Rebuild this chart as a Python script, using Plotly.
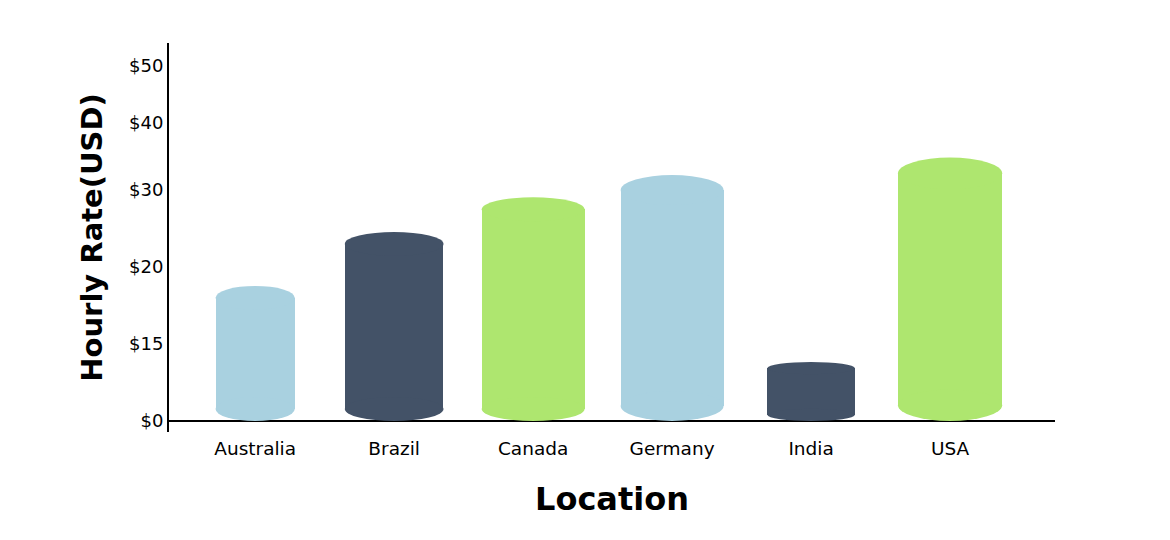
import numpy as np
import plotly.graph_objects as go

# data
locations = ['Australia', 'Brazil', 'Canada', 'Germany', 'India', 'USA']
hourly_rate = [18, 23, 27.5, 30, 10.3, 32.5]

# the y axis has uneven gaps between its labels
tick_usd = [0, 15, 20, 30, 40, 50]
tick_labels = ['$0', '$15', '$20', '$30', '$40', '$50']
tick_pos = [0, 10, 20, 30, 38.7, 46.2]

# cylinder look
colors = ['#A9D1E0', '#435267', '#AEE66F', '#A9D1E0', '#435267', '#AEE66F']
widths = [0.57, 0.71, 0.74, 0.74, 0.63, 0.75]
cap = [1.55, 1.55, 1.55, 1.95, 0.8, 2.05]

FONT = 'DejaVu Sans, sans-serif'

y_top = np.interp(hourly_rate, tick_usd, tick_pos)

fig = go.Figure()
fig.add_trace(go.Bar(
    x=locations, y=y_top - np.array(cap), base=cap, width=widths,
    marker=dict(color=colors, line=dict(width=0)),
    customdata=hourly_rate, hovertemplate='%{x}: $%{customdata}<extra></extra>'))

# top and bottom ellipses of each cylinder
for i, loc in enumerate(locations):
    for yc in (y_top[i], cap[i]):
        fig.add_shape(type='circle', xref='x', yref='y', layer='above',
                      x0=i - widths[i] / 2, x1=i + widths[i] / 2,
                      y0=yc - cap[i], y1=yc + cap[i],
                      fillcolor=colors[i], line=dict(width=0))

# page body adds ~8px, margins allow for it
fig.update_layout(
    width=1170, height=540, template='plotly_white',
    plot_bgcolor='white', paper_bgcolor='white',
    margin=dict(l=161, r=123, t=35, b=116),
    showlegend=False, bargap=0,
    font=dict(family=FONT, color='black', size=18))

fig.update_xaxes(type='category', range=[-0.62, 5.755], showgrid=False,
                 showline=False, ticks='', tickfont=dict(size=18.5),
                 ticklabelstandoff=3,
                 title=dict(text='<b>Location</b>', font=dict(size=32), standoff=30))
fig.update_yaxes(range=[-1.43, 49.1], tickvals=tick_pos, ticktext=tick_labels,
                 showgrid=False, showline=True, linecolor='black', linewidth=2,
                 zeroline=True, zerolinecolor='black', zerolinewidth=2,
                 ticks='', tickfont=dict(size=18),
                 title=dict(text='<b>Hourly Rate(USD)</b>', font=dict(size=29), standoff=18))

fig.write_html('out.html')
